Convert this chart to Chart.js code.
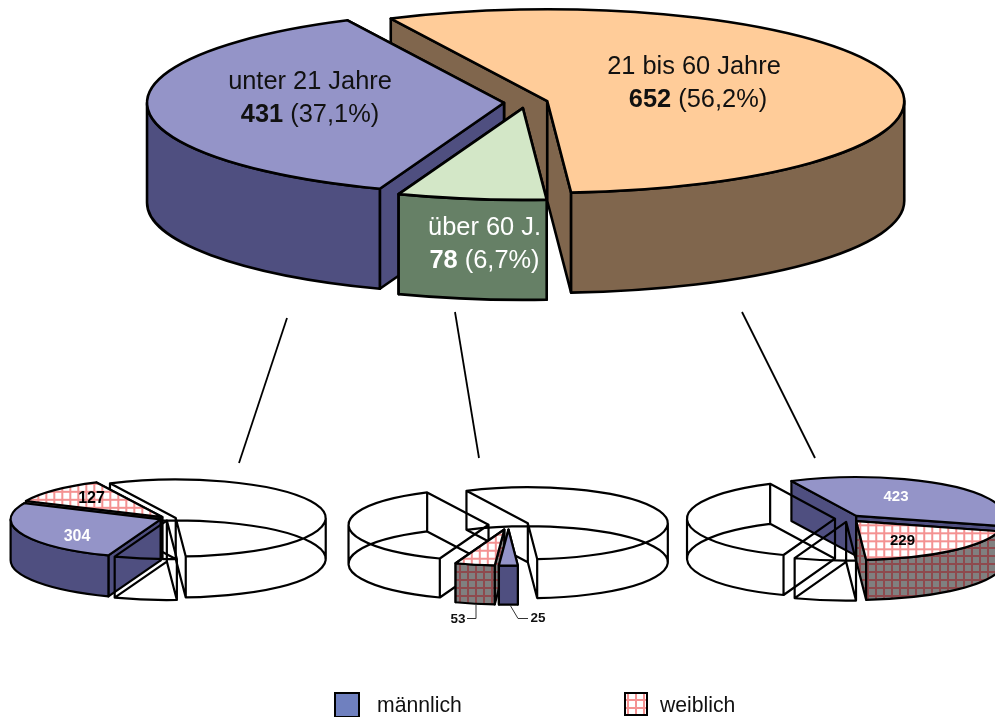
<!DOCTYPE html>
<html>
<head>
<meta charset="utf-8">
<style>
  html, body { margin: 0; padding: 0; background: #fff; overflow: hidden; }
  #stage { position: relative; width: 995px; height: 717px; overflow: hidden; }
  #stage canvas { position: absolute; left: 0; top: 0; }
</style>
<script src="https://cdn.jsdelivr.net/npm/chart.js@4"></script>
</head>
<body>
<div id="stage">
  <canvas id="pieAll" width="995" height="717"></canvas>
  <canvas id="pieYoung" width="995" height="717"></canvas>
  <canvas id="pieOld" width="995" height="717"></canvas>
  <canvas id="pieMiddle" width="995" height="717"></canvas>
</div>
<script>
// Head counts by age group, and each group split by sex.
const ageLabels = ['21 bis 60 Jahre', 'über 60 J.', 'unter 21 Jahre'];
const ageValues = [652, 78, 431];
const youngMale = 304, youngFemale = 127;
const oldMale = 25, oldFemale = 53;
const middleMale = 423, middleFemale = 229;
const sexLabels = ['männlich', 'weiblich'];

const ORANGE = '#ffcc99', ORANGE_WALL = '#80664d';
const GREEN = '#d3e7c7', GREEN_WALL = '#668066';
const VIOLET = '#9494c8', VIOLET_WALL = '#4f4f80';
const LEGEND_BLUE = '#6f80bf';
const FONT = '"Liberation Sans", Arial, sans-serif';

// Cross-hatch tile for the female slices; yScale undoes the tilt on top faces.
function hatch(base, line, yScale) {
  const size = 8, tile = document.createElement('canvas');
  tile.width = tile.height = size;
  const g = tile.getContext('2d');
  g.fillStyle = base;
  g.fillRect(0, 0, size, size);
  g.fillStyle = line;
  g.fillRect(0, 3, size, 2);
  g.fillRect(3, 0, 2, size);
  const pattern = g.createPattern(tile, 'repeat');
  pattern.setTransform(new DOMMatrix().scale(1, yScale));
  return pattern;
}
const hatchWall = () => hatch('#808080', '#8e4a4e', 1);
const hatchTop = tilt => hatch('#ffffff', '#f49292', 1 / tilt);

// Pie controller that paints its arcs as extruded, tilted slices.
class TiltedPie extends Chart.PieController {
  draw() {
    const ctx = this._ctx, arcs = this._cachedMeta.data, ds = this.getDataset();
    ds.paintOrder.forEach(i => this.paintSlice(ctx, arcs[i], i, ds));
  }
  paintSlice(ctx, arc, i, ds) {
    const { x, y, startAngle: a0, endAngle: a1, outerRadius: R } = arc;
    const { tilt, depth, explode } = ds;
    const mid = (a0 + a1) / 2;
    const cx = x + Math.cos(mid) * explode;
    const cy = y + Math.sin(mid) * explode * tilt;
    const ry = R * tilt;
    const rim = a => [cx + Math.cos(a) * R, cy + Math.sin(a) * ry];
    ctx.save();
    ctx.strokeStyle = '#000';
    ctx.lineWidth = ds.edgeWidth;
    ctx.lineJoin = 'round';

    const sector = dy => {
      ctx.moveTo(cx, cy + dy);
      ctx.ellipse(cx, cy + dy, R, ry, 0, a0, a1);
      ctx.closePath();
    };

    if (ds.wire[i]) {
      ctx.beginPath();
      sector(0);
      sector(depth);
      const posts = [[cx, cy], rim(a0), rim(a1)];
      [0, Math.PI, -Math.PI].forEach(a => { if (a > a0 && a < a1) posts.push(rim(a)); });
      posts.forEach(([px, py]) => { ctx.moveTo(px, py); ctx.lineTo(px, py + depth); });
      ctx.stroke();
      ctx.restore();
      return;
    }

    ctx.fillStyle = ds.walls[i];
    // Radial cut faces, the one further from the viewer first.
    [a0, a1].sort((p, q) => rim(p)[1] - rim(q)[1]).forEach(a => {
      const [px, py] = rim(a);
      ctx.beginPath();
      ctx.moveTo(cx, cy);
      ctx.lineTo(px, py);
      ctx.lineTo(px, py + depth);
      ctx.lineTo(cx, cy + depth);
      ctx.closePath();
      ctx.fill();
      ctx.stroke();
    });
    // Curved outer face, only where it turns towards the viewer.
    const lo = Math.max(a0, 0), hi = Math.min(a1, Math.PI);
    if (lo < hi) {
      ctx.beginPath();
      ctx.ellipse(cx, cy, R, ry, 0, lo, hi);
      ctx.ellipse(cx, cy + depth, R, ry, 0, hi, lo, true);
      ctx.closePath();
      ctx.fill();
      ctx.stroke();
    }
    // Top face: the arc element itself, squashed into the tilted plane.
    ctx.save();
    ctx.translate(cx, cy);
    ctx.scale(1, tilt);
    ctx.translate(-x, -y);
    arc.draw(ctx);
    ctx.restore();
    ctx.beginPath();
    sector(0);
    ctx.stroke();
    ctx.restore();
  }
}
TiltedPie.id = 'tiltedPie';
TiltedPie.defaults = {};
Chart.register(TiltedPie);

// Text runs centred on a point; each run may be bold.
function centredRuns(ctx, runs, cx, baseline, size, color) {
  ctx.save();
  ctx.fillStyle = color;
  ctx.textBaseline = 'alphabetic';
  ctx.textAlign = 'left';
  const fontOf = r => `${r.bold ? 'bold ' : ''}${size}px ${FONT}`;
  let width = 0;
  runs.forEach(r => { ctx.font = fontOf(r); width += ctx.measureText(r.text).width; });
  let px = cx - width / 2;
  runs.forEach(r => {
    ctx.font = fontOf(r);
    ctx.fillText(r.text, px, baseline);
    px += ctx.measureText(r.text).width;
  });
  ctx.restore();
}

const total = ageValues.reduce((a, b) => a + b, 0);
const pct = v => (v / total * 100).toFixed(1).replace('.', ',') + '%';
const countRuns = v => [{ text: String(v), bold: true }, { text: ` (${pct(v)})` }];

function polyline(ctx, pts, width, color) {
  ctx.save();
  ctx.strokeStyle = color;
  ctx.lineWidth = width;
  ctx.beginPath();
  pts.forEach(([px, py], n) => n ? ctx.lineTo(px, py) : ctx.moveTo(px, py));
  ctx.stroke();
  ctx.restore();
}

// Builds one pie; the centre is set through the layout padding of the chart.
function pie(id, cfg, overlay) {
  const W = 995, H = 717;
  const padding = {
    left: Math.max(2 * cfg.cx - W, 0), right: Math.max(W - 2 * cfg.cx, 0),
    top: Math.max(2 * cfg.cy - H, 0), bottom: Math.max(H - 2 * cfg.cy, 0)
  };
  return new Chart(document.getElementById(id), {
    type: 'tiltedPie',
    data: {
      labels: cfg.labels,
      datasets: [{
        data: cfg.values,
        backgroundColor: cfg.tops,
        borderWidth: 0,
        rotation: -26,
        radius: cfg.radius,
        tilt: cfg.tilt,
        depth: cfg.depth,
        explode: cfg.explode,
        edgeWidth: cfg.edgeWidth,
        walls: cfg.walls,
        wire: cfg.wire,
        paintOrder: cfg.paintOrder
      }]
    },
    options: {
      responsive: false,
      animation: false,
      events: [],
      layout: { padding },
      plugins: { legend: { display: false }, tooltip: { enabled: false } }
    },
    plugins: [{ id: id + 'Overlay', afterDatasetsDraw: chart => overlay(chart.ctx) }]
  });
}

// Overview pie, with the connectors and the legend.
pie('pieAll', {
  labels: ageLabels, values: ageValues,
  tops: [ORANGE, GREEN, VIOLET],
  walls: [ORANGE_WALL, GREEN_WALL, VIOLET_WALL],
  wire: [false, false, false],
  paintOrder: [0, 2, 1],
  cx: 526, cy: 102.5, radius: 357, tilt: 0.257, depth: 100, explode: 22, edgeWidth: 2.6
}, ctx => {
  const size = 25.4;
  centredRuns(ctx, [{ text: ageLabels[2] }], 310, 89, size, '#111');
  centredRuns(ctx, countRuns(ageValues[2]), 310, 122, size, '#111');
  centredRuns(ctx, [{ text: ageLabels[0] }], 694, 74, size, '#111');
  centredRuns(ctx, countRuns(ageValues[0]), 698, 107, size, '#111');
  centredRuns(ctx, [{ text: ageLabels[1] }], 484.5, 235, size, '#fff');
  centredRuns(ctx, countRuns(ageValues[1]), 484.5, 268, size, '#fff');

  polyline(ctx, [[287, 318], [239, 463]], 1.8, '#000');
  polyline(ctx, [[455, 312], [479, 458]], 1.8, '#000');
  polyline(ctx, [[742, 312], [815, 458]], 1.8, '#000');

  ctx.save();
  ctx.strokeStyle = '#000';
  ctx.lineWidth = 2;
  ctx.fillStyle = LEGEND_BLUE;
  ctx.fillRect(335, 693, 24, 24);
  ctx.strokeRect(335, 693, 24, 24);
  ctx.fillStyle = hatch('#ffffff', '#f49292', 1);
  ctx.fillRect(625, 693, 22, 22);
  ctx.strokeRect(625, 693, 22, 22);
  ctx.fillStyle = '#111';
  ctx.font = `21.2px ${FONT}`;
  ctx.fillText(sexLabels[0], 377, 712);
  ctx.fillText(sexLabels[1], 660, 712);
  ctx.restore();
});

// Under-21 group broken down by sex.
pie('pieYoung', {
  labels: [ageLabels[0], ageLabels[1], sexLabels[0], sexLabels[1]],
  values: [ageValues[0], ageValues[1], youngMale, youngFemale],
  tops: ['transparent', 'transparent', VIOLET, hatchTop(0.257)],
  walls: [null, null, VIOLET_WALL, hatchWall()],
  wire: [true, true, false, false],
  paintOrder: [0, 3, 2, 1],
  cx: 168, cy: 518.5, radius: 150, tilt: 0.257, depth: 41, explode: 8, edgeWidth: 2.2
}, ctx => {
  centredRuns(ctx, [{ text: String(youngFemale), bold: true }], 91.5, 503, 16, '#000');
  centredRuns(ctx, [{ text: String(youngMale), bold: true }], 77, 541, 16, '#fff');
});

// Over-60 group broken down by sex.
pie('pieOld', {
  labels: [ageLabels[0], sexLabels[0], sexLabels[1], ageLabels[2]],
  values: [ageValues[0], oldMale, oldFemale, ageValues[2]],
  tops: ['transparent', VIOLET, hatchTop(0.257), 'transparent'],
  walls: [null, VIOLET_WALL, hatchWall(), null],
  wire: [true, false, false, true],
  paintOrder: [0, 3, 2, 1],
  cx: 508.5, cy: 524.5, radius: 140, tilt: 0.257, depth: 39, explode: 20, edgeWidth: 2.2
}, ctx => {
  polyline(ctx, [[476, 605], [476, 618.5], [467, 618.5]], 1, '#333');
  polyline(ctx, [[510, 605], [518, 618.5], [528, 618.5]], 1, '#333');
  centredRuns(ctx, [{ text: String(oldFemale), bold: true }], 458, 623, 13.5, '#111');
  centredRuns(ctx, [{ text: String(oldMale), bold: true }], 538, 622, 13.5, '#111');
});

// 21 to 60 group broken down by sex.
pie('pieMiddle', {
  labels: [sexLabels[0], sexLabels[1], ageLabels[1], ageLabels[2]],
  values: [middleMale, middleFemale, ageValues[1], ageValues[2]],
  tops: [VIOLET, hatchTop(0.262), 'transparent', 'transparent'],
  walls: [VIOLET_WALL, hatchWall(), null, null],
  wire: [false, false, true, true],
  paintOrder: [0, 1, 3, 2],
  cx: 848, cy: 518.5, radius: 148, tilt: 0.262, depth: 40, explode: 13, edgeWidth: 2.2
}, ctx => {
  centredRuns(ctx, [{ text: String(middleMale), bold: true }], 896, 501, 15, '#fff');
  centredRuns(ctx, [{ text: String(middleFemale), bold: true }], 902.5, 545, 15, '#000');
});
</script>
</body>
</html>
